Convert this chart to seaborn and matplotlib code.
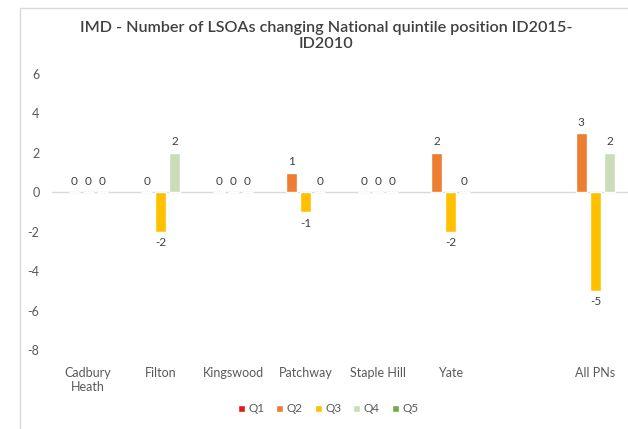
import numpy as np
import pandas as pd
import matplotlib
matplotlib.use("Agg")
import matplotlib.pyplot as plt
from matplotlib.patches import Rectangle
import seaborn as sns

sns.set_style("white")
plt.rcParams['font.family'] = ['Lato', 'DejaVu Sans']

# areas (one blank slot before the total, as in the original sheet)
areas = ["Cadbury\nHeath", "Filton", "Kingswood", "Patchway", "Staple Hill", "Yate", " ", "All PNs"]
quintiles = ["Q1", "Q2", "Q3", "Q4", "Q5"]

q1 = [None, None, None, None, None, None, None, None]
q2 = [0, 0, 0, 1, 0, 2, None, 3]
q3 = [0, -2, 0, -1, 0, -2, None, -5]
q4 = [0, 2, 0, 0, 0, 0, None, 2]
q5 = [None, None, None, None, None, None, None, None]

colors = ["#E8141B", "#ED7D31", "#FFC000", "#C9DDB8", "#70AD47"]
yticks = [6, 4, 2, 0, -2, -4, -6, -8]

rows = []
for q, vals in zip(quintiles, [q1, q2, q3, q4, q5]):
    for a, v in zip(areas, vals):
        rows.append({"area": a, "quintile": q, "value": np.nan if v is None else v})
df = pd.DataFrame(rows)

fig = plt.figure(figsize=(6.28, 4.29), dpi=100)
ax = fig.add_axes([52 / 628, 1 - 350 / 429, (628 - 52) / 628, (350 - 74) / 429])

sns.barplot(data=df, x="area", y="value", hue="quintile", order=areas,
            hue_order=quintiles, palette=colors, width=0.97, gap=0.2,
            errorbar=None, ax=ax, saturation=1)

# data labels, skip the empty series
for cont in ax.containers:
    vals = cont.datavalues
    labs = ["" if np.isnan(v) else f"{int(v)}" for v in vals]
    ax.bar_label(cont, labels=labs, padding=4, fontsize=8.5, color="#404040")

ax.axhline(0, color="#D9D9D9", lw=1, zorder=0)
ax.set_ylim(-8, 6)
ax.set_xlim(-0.5, 7.45)
ax.set_yticks(yticks)
ax.set_yticklabels([str(t) for t in yticks])
ax.tick_params(axis="both", length=0, labelsize=9, labelcolor="#595959")
ax.tick_params(axis="x", pad=12)
ax.tick_params(axis="y", pad=9)
ax.set_xlabel("")
ax.set_ylabel("")
sns.despine(ax=ax, left=True, bottom=True)

ax.legend(loc="center", ncol=5, frameon=False, fontsize=8.5,
          handlelength=0.6, handleheight=0.6, handletextpad=0.3,
          columnspacing=1.0, labelcolor="#595959")
ax.get_legend().set_bbox_to_anchor((328 / 628, 1 - 409 / 429), transform=fig.transFigure)

fig.text(326 / 628, 1 - 36 / 429,
         "IMD - Number of LSOAs changing National quintile position ID2015-\nID2010",
         ha="center", va="center", fontsize=11.6, fontweight="semibold",
         color="#404040", linespacing=1.25)

# light outer chart border (cropped at right/bottom in the original)
fig.patches.append(Rectangle((20 / 628, -0.05), 1.0, 1 - 8 / 429 + 0.05,
                             transform=fig.transFigure, fill=False,
                             ec="#D9D9D9", lw=1))

fig.savefig("out.png", dpi=100)
